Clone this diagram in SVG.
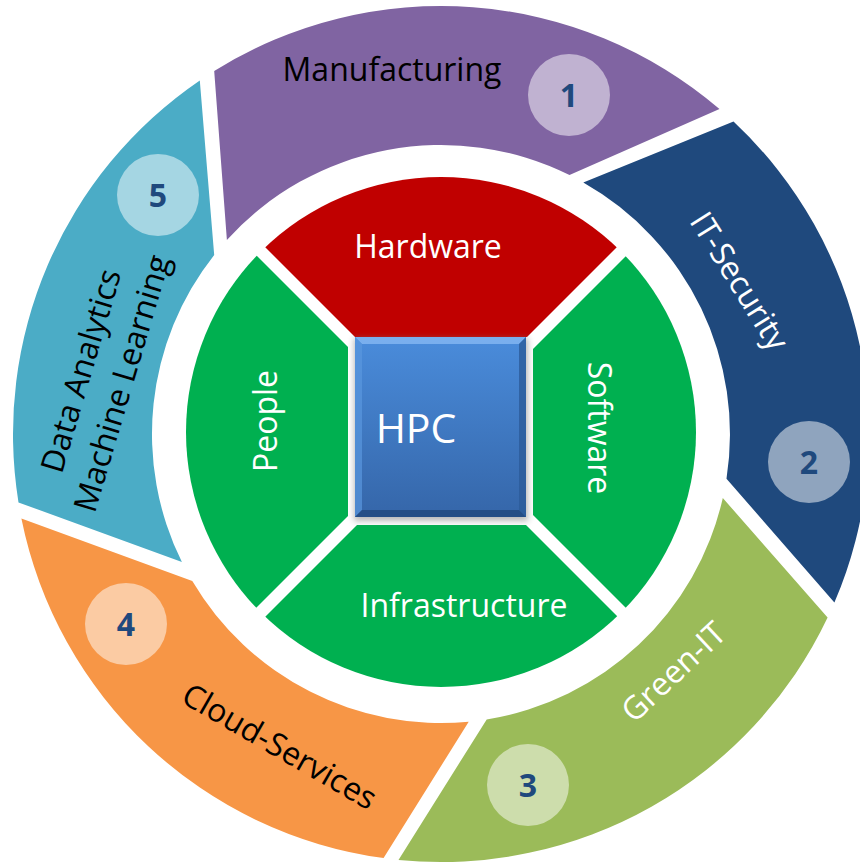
<svg xmlns="http://www.w3.org/2000/svg" width="860" height="865" viewBox="0 0 860 865">
<defs>
<style>
text { font-family: "Open Sans", "Liberation Sans", sans-serif; }
.lbl { font-size: 32px; }
.w { fill: #ffffff; }
.k { fill: #000000; }
.mid { text-anchor: middle; }
.num { font-size: 32px; font-weight: bold; fill: #1F497D; text-anchor: middle; }
.badge { fill: #ffffff; fill-opacity: 0.5; }
.green { fill: #00B050; }
</style>
<clipPath id="disk"><circle cx="441" cy="432" r="255"/></clipPath>
<linearGradient id="hpcg" x1="0" y1="0" x2="0" y2="1">
<stop offset="0" stop-color="#4A8CDB"/>
<stop offset="1" stop-color="#3566A9"/>
</linearGradient>
<filter id="sh" x="-20%" y="-20%" width="140%" height="140%"><feGaussianBlur stdDeviation="3"/></filter>
</defs>
<rect width="860" height="865" fill="#ffffff"/>

<g id="manufacturing">
<path d="M214.2,71.1 A428,428 0 0 1 719.5,109.0 L569.5,175.1 A289,289 0 0 0 226.9,239.9 Z" fill="#8064A2"/>
<circle class="badge" cx="569" cy="95" r="41"/>
<text class="num" x="569" y="107">1</text>
<text class="lbl k mid" x="392" y="81">Manufacturing</text>
</g>

<g id="it-security">
<path d="M733.5,121.5 A428,428 0 0 1 834.4,602.6 L726.5,478.7 A289,289 0 0 0 583.3,182.5 Z" fill="#1F497D"/>
<circle class="badge" cx="809" cy="462" r="41"/>
<text class="num" x="809" y="474">2</text>
<text class="lbl w mid" transform="translate(730,287) rotate(58)">IT-Security</text>
</g>

<g id="green-it">
<path d="M827.6,617.6 A428,428 0 0 1 398.5,859.9 L486.7,719.4 A289,289 0 0 0 722.8,498.0 Z" fill="#9BBB59"/>
<circle class="badge" cx="528" cy="785" r="41"/>
<text class="num" x="528" y="797">3</text>
<text class="lbl w mid" transform="translate(681,680) rotate(-43)">Green-IT</text>
</g>

<g id="cloud-services">
<path d="M383.6,858.1 A428,428 0 0 1 21.4,518.6 L192.3,581.1 A289,289 0 0 0 468.7,721.7 Z" fill="#F79646"/>
<circle class="badge" cx="126" cy="624" r="41"/>
<text class="num" x="126" y="636">4</text>
<text class="lbl k mid" transform="translate(274,756) rotate(30)">Cloud-Services</text>
</g>

<g id="data-analytics">
<path d="M18.5,502.4 A428,428 0 0 1 199.8,80.4 L214.2,254.9 A289,289 0 0 0 181.9,562.1 Z" fill="#4BACC6"/>
<circle class="badge" cx="158" cy="195" r="41"/>
<text class="num" x="158" y="207">5</text>
<text class="lbl k mid" transform="translate(91.5,374) rotate(-73.5)">Data Analytics</text>
<text class="lbl k mid" transform="translate(132.5,386.5) rotate(-73.5)">Machine Learning</text>
</g>

<g id="hardware">
<polygon points="355,337 527,337 927,-63 -45,-63" fill="#C00000" clip-path="url(#disk)"/>
<text class="lbl w mid" x="428" y="258">Hardware</text>
</g>

<g id="software">
<polygon class="green" points="533,349 933,-51 933,915 533,515" clip-path="url(#disk)"/>
<text class="lbl w mid" transform="translate(588,428) rotate(90)">Software</text>
</g>

<g id="people">
<polygon class="green" points="348,347 -52,-53 -52,916 348,516" clip-path="url(#disk)"/>
<text class="lbl w mid" transform="translate(277,421) rotate(-90)">People</text>
</g>

<g id="infrastructure">
<polygon class="green" points="357,525 526,525 926,925 -43,925" clip-path="url(#disk)"/>
<text class="lbl w mid" x="464" y="617">Infrastructure</text>
</g>

<g id="hpc">
<rect x="354" y="338" width="174" height="183" fill="#7f7f7f" opacity="0.55" filter="url(#sh)"/>
<rect x="355" y="337" width="171" height="180" fill="url(#hpcg)"/>
<polygon points="355,337 526,337 519,344 362,344" fill="#86B8F2" opacity="0.8"/>
<polygon points="355,337 362,344 362,510 355,517" fill="#5A97DE" opacity="0.7"/>
<polygon points="526,337 519,344 519,510 526,517" fill="#2C5B9A" opacity="0.8"/>
<polygon points="355,517 526,517 519,510 362,510" fill="#244B82" opacity="0.9"/>
<text class="w mid" x="416" y="443" font-size="41">HPC</text>
</g>

<g id="connectors"/>
</svg>
